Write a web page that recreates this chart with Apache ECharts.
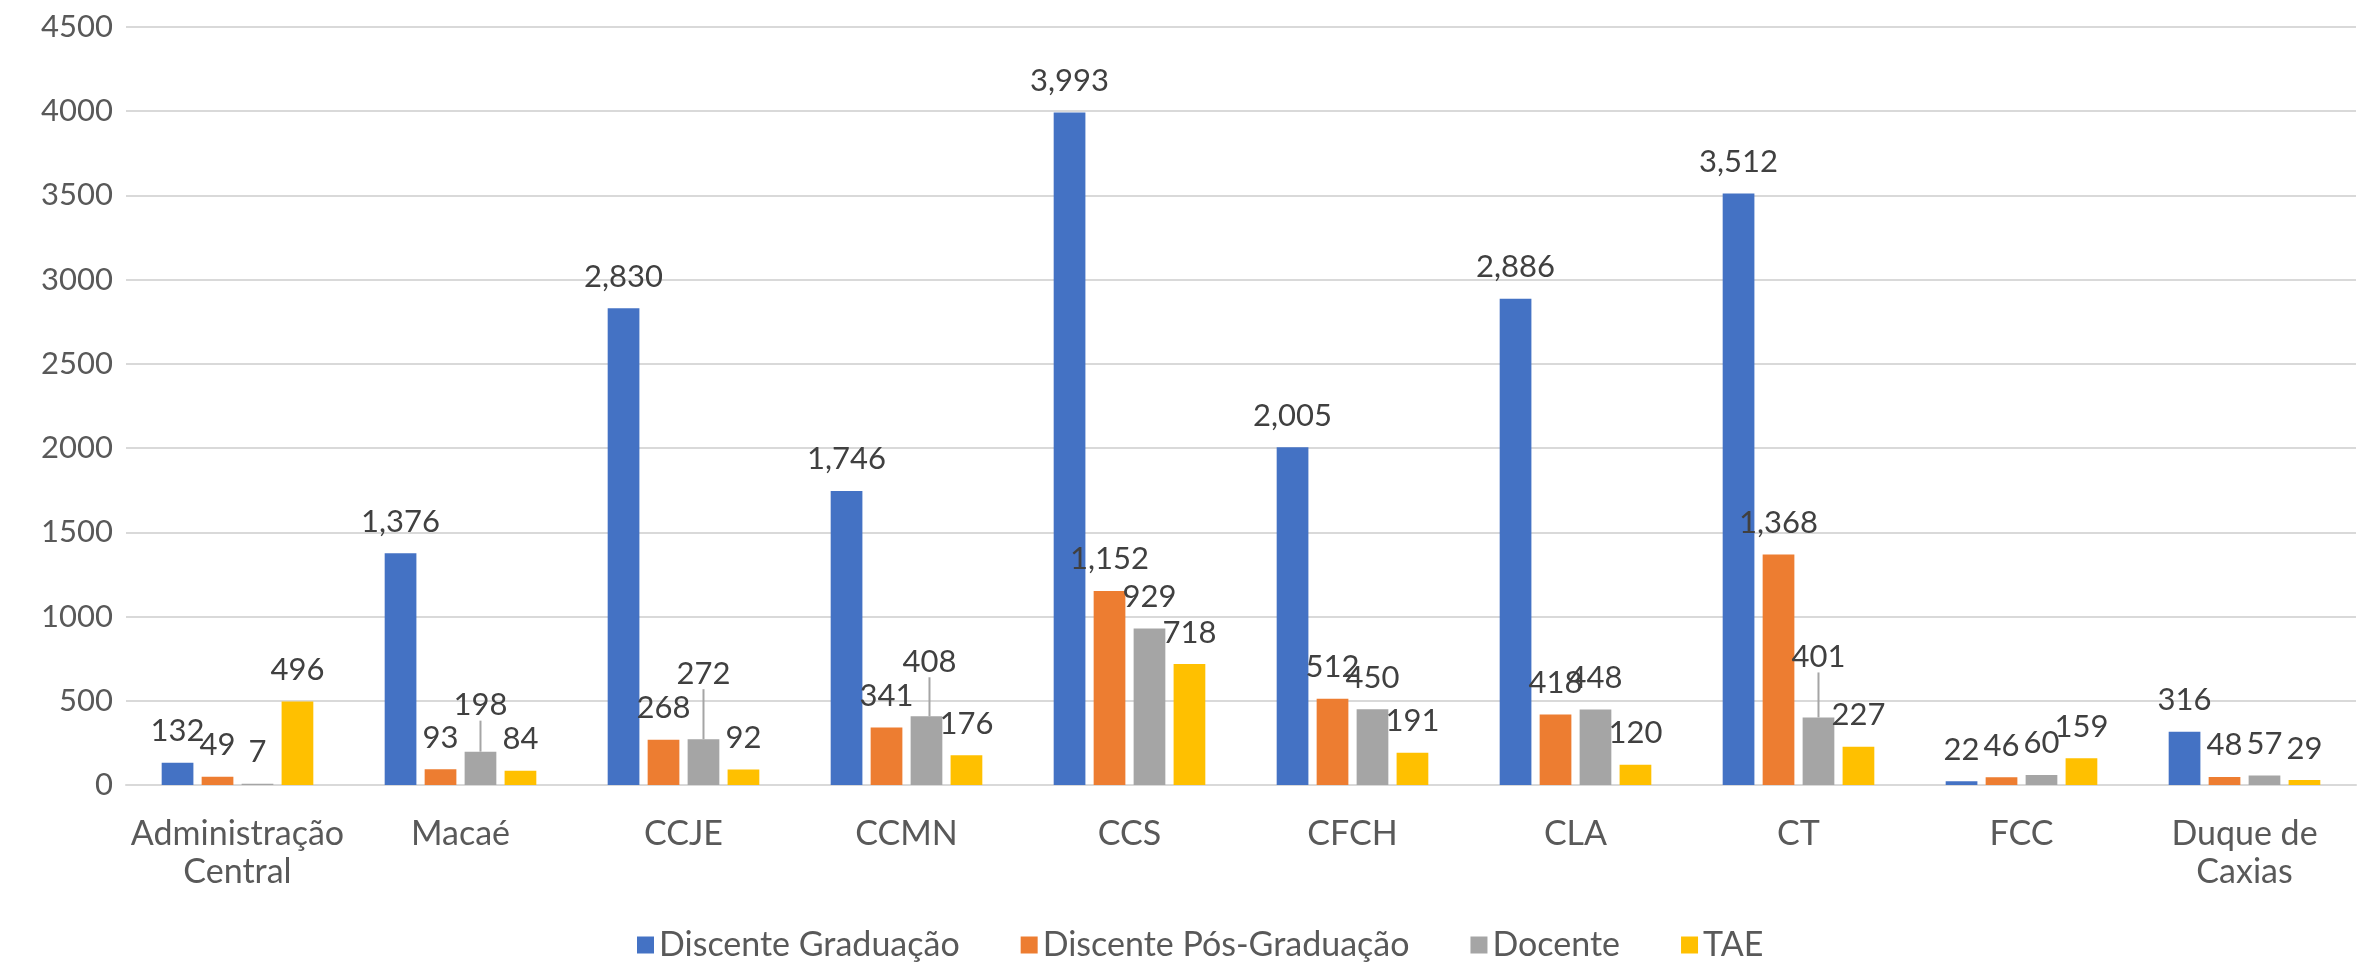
<!DOCTYPE html>
<html>
<head>
<meta charset="utf-8">
<script src="https://cdn.jsdelivr.net/npm/echarts@6/dist/echarts.min.js"></script>
<style>
html,body{margin:0;padding:0;background:#fff;}
#chart{width:2366px;height:967px;}
</style>
</head>
<body>
<div id="chart"></div>
<script>
const categories = ['Administração Central','Macaé','CCJE','CCMN','CCS','CFCH','CLA','CT','FCC','Duque de Caxias'];
const seriesNames = ['Discente Graduação','Discente Pós-Graduação','Docente','TAE'];
const discenteGraduacao = [132, 1376, 2830, 1746, 3993, 2005, 2886, 3512, 22, 316];
const discentePosGraduacao = [49, 93, 268, 341, 1152, 512, 418, 1368, 46, 48];
const docente = [7, 198, 272, 408, 929, 450, 448, 401, 60, 57];
const tae = [496, 84, 92, 176, 718, 191, 120, 227, 159, 29];
const yTicks = {min: 0, max: 4500, interval: 500};

// label displacement (Excel moved a few Docente labels, drawn with leader lines)
const docenteLabelShift = {1: [0, -15], 2: [0, -34], 3: [3, -23], 7: [0, -29]};

const colors = ['#4472C4', '#ED7D31', '#A5A5A5', '#FFC000'];
const FONT = 'Lato';
const valuesList = [discenteGraduacao, discentePosGraduacao, docente, tae];

const labelBase = {
  show: true, position: 'top', distance: 16,
  fontFamily: FONT, fontSize: 31, color: '#404040',
  formatter: p => Number(p.value).toLocaleString('en-US')
};

const series = valuesList.map((vals, si) => {
  const s = {
    name: seriesNames[si], type: 'bar',
    barGap: '26%', barCategoryGap: '32%',
    itemStyle: {color: colors[si]},
    label: labelBase,
    data: vals.map((v, i) => {
      if (si === 2 && docenteLabelShift[i]) {
        return {value: v, labelLine: {show: true, lineStyle: {color: '#A5A5A5', width: 2}}};
      }
      return v;
    })
  };
  if (si === 2) {
    s.labelLine = {show: false};
    s.labelLayout = function (params) {
      const sh = docenteLabelShift[params.dataIndex];
      if (!sh) return {};
      const r = params.labelRect;
      return {
        x: r.x + r.width / 2 + sh[0],
        y: r.y + r.height / 2 + sh[1],
        align: 'center', verticalAlign: 'middle'
      };
    };
  }
  return s;
});

const chart = echarts.init(document.getElementById('chart'), null, {renderer: 'canvas'});
chart.setOption({
  animation: false,
  backgroundColor: '#ffffff',
  grid: {left: 126, right: 10, top: 27, bottom: 182, containLabel: false},
  legend: {
    bottom: 0, left: 632,
    itemWidth: 17, itemHeight: 17, itemGap: 61,
    icon: 'rect',
    textStyle: {fontFamily: FONT, fontSize: 34, color: '#595959'},
    data: seriesNames
  },
  xAxis: {
    type: 'category', data: categories,
    axisLine: {show: true, lineStyle: {color: '#D9D9D9', width: 2}},
    axisTick: {show: false},
    axisLabel: {
      interval: 0, margin: 30, fontFamily: FONT, fontSize: 34, color: '#595959',
      lineHeight: 38,
      formatter: v => {
        if (v.length > 12) {
          const k = v.lastIndexOf(' ');
          return v.slice(0, k) + '\n' + v.slice(k + 1);
        }
        return v;
      }
    }
  },
  yAxis: {
    type: 'value', min: yTicks.min, max: yTicks.max, interval: yTicks.interval,
    axisLine: {show: false}, axisTick: {show: false},
    axisLabel: {margin: 13, fontFamily: FONT, fontSize: 31, color: '#595959', formatter: v => String(v)},
    splitLine: {lineStyle: {color: '#D9D9D9', width: 2}}
  },
  series: series
});
</script>
</body>
</html>
